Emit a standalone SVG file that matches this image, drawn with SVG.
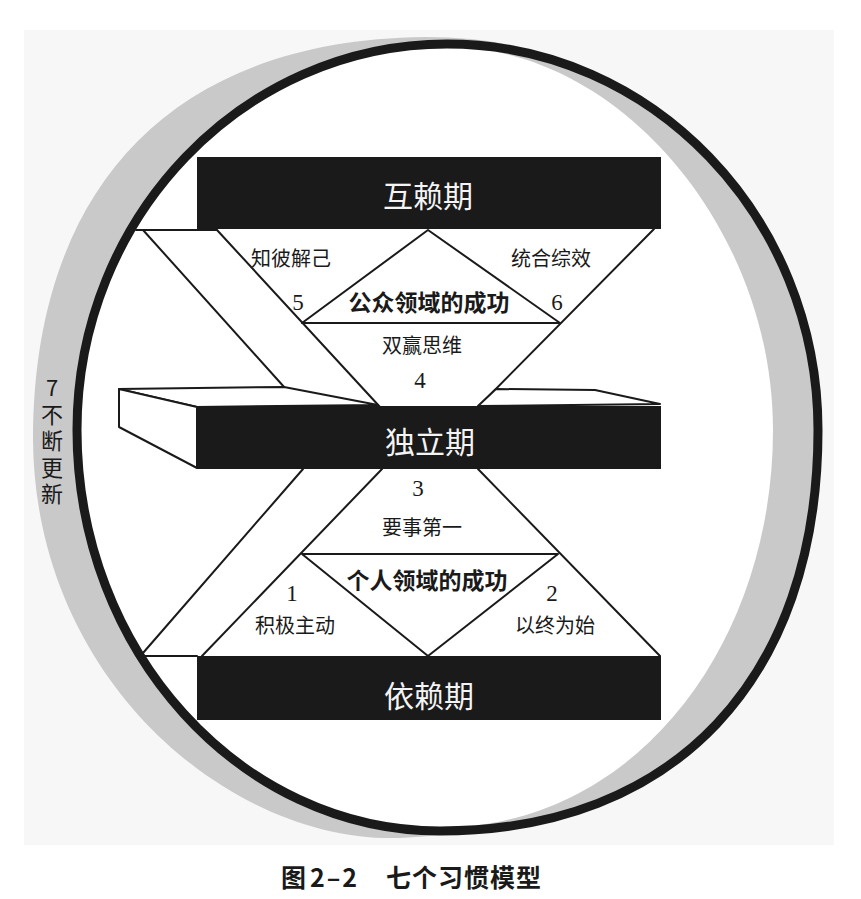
<svg xmlns="http://www.w3.org/2000/svg" width="861" height="899" viewBox="0 0 861 899">
<style>
.ln{stroke:#1a1a1a;stroke-width:2;fill:none;stroke-linecap:round;stroke-linejoin:round}
.face{fill:#ffffff;stroke:#1a1a1a;stroke-width:2;stroke-linejoin:round}
.bar{fill:#1a1a1a}
.band{fill:#c9c9c9}
.bt{font-family:"Noto Sans CJK SC","Noto Sans",sans-serif;font-size:30px;fill:#f4f4f4;text-anchor:middle}
.lb{font-family:"Noto Sans CJK SC","Noto Sans",sans-serif;font-size:20px;fill:#1a1a1a;text-anchor:middle}
.bd{font-family:"Noto Sans CJK SC","Noto Sans",sans-serif;font-size:23px;font-weight:bold;fill:#1a1a1a;text-anchor:middle}
.num{font-family:"Liberation Serif",serif;font-size:23px;fill:#1a1a1a;text-anchor:middle}
.cap{font-family:"Noto Sans CJK SC","Noto Sans",sans-serif;font-size:25px;font-weight:bold;fill:#1a1a1a}
</style>
<rect x="0" y="0" width="861" height="899" fill="#ffffff"/>
<rect x="24" y="30" width="810" height="815" fill="#f7f7f7"/>
<g id="renewal-ring">
<path d="M447,44 C652,44 818,217 818,430 C818,679 674,831 440,831 C240,831 77,651 77,430 C77,217 243,44 447,44 Z" fill="#ffffff"/>
<path class="band" d="M520,47 Q480,37 425,37 C160,40 33,200 33,440 C35,680 230,843 400,838 Q440,836 480,830 L440,831 C240,831 77,651 77,430 C77,217 243,44 447,44 Z"/>
<path class="band" d="M447,44 C652,44 818,217 818,430 C818,679 674,831 440,831 L440,828 C640,826 773,640 773,430 C773,230 620,47 447,47 Z"/>
<path d="M447,44 C652,44 818,217 818,430 C818,679 674,831 440,831 C240,831 77,651 77,430 C77,217 243,44 447,44 Z" fill="none" stroke="#1a1a1a" stroke-width="9"/>
<text x="52" y="377" font-family="Noto Sans CJK SC, sans-serif" font-size="22" fill="#1a1a1a" letter-spacing="4.5" style="writing-mode:vertical-rl;text-orientation:upright">7不断更新</text>
</g>
<g id="connectors">
<line class="ln" x1="136" y1="230" x2="217" y2="230"/>
<line class="ln" x1="143" y1="230" x2="285" y2="388"/>
<line class="ln" x1="217" y1="230" x2="380" y2="407"/>
<line class="ln" x1="654" y1="229" x2="478" y2="407"/>
<polyline class="ln" points="302,323 428,230 560,323 302,323"/>
<line class="ln" x1="303" y1="469" x2="143" y2="653"/>
<line class="ln" x1="382" y1="469" x2="202" y2="656"/>
<line class="ln" x1="478" y1="469" x2="660" y2="656"/>
<polyline class="ln" points="302,554 558,554 428,656 302,554"/>
<line class="ln" x1="140" y1="656" x2="197" y2="656"/>
</g>
<g id="interdependence">
<rect class="bar" x="197" y="157" width="464" height="72"/>
<text class="bt" x="428" y="207">互赖期</text>
</g>
<g id="independence">
<polygon class="face" points="119,389 284,387 378,405 197,407"/>
<polygon class="face" points="496,389 595,390 660,404 478,406"/>
<polygon class="face" points="119,389 197,407 197,468 119,427"/>
<rect class="bar" x="197" y="406" width="464" height="63"/>
<text class="bt" x="430" y="453">独立期</text>
</g>
<g id="dependence">
<rect class="bar" x="197" y="656" width="464" height="64"/>
<text class="bt" x="429" y="707">依赖期</text>
</g>
<g id="public-victory">
<text class="lb" x="291" y="266">知彼解己</text>
<text class="lb" x="551" y="266">统合综效</text>
<text class="num" x="298" y="310">5</text>
<text class="num" x="557" y="310">6</text>
<text class="bd" x="429" y="311">公众领域的成功</text>
<text class="lb" x="422" y="353">双赢思维</text>
<text class="num" x="420" y="388">4</text>
</g>
<g id="private-victory">
<text class="num" x="418" y="496">3</text>
<text class="lb" x="422" y="535">要事第一</text>
<text class="bd" x="427" y="589">个人领域的成功</text>
<text class="num" x="292" y="601">1</text>
<text class="num" x="552" y="601">2</text>
<text class="lb" x="295" y="633">积极主动</text>
<text class="lb" x="555" y="633">以终为始</text>
</g>
<g id="caption">
<text class="cap" x="281" y="887">图</text>
<text class="cap" x="310" y="887" font-family="Liberation Sans, Arial, sans-serif" font-size="26" letter-spacing="2">2–2</text>
<text class="cap" x="386" y="887" letter-spacing="1">七个习惯模型</text>
</g>
</svg>
